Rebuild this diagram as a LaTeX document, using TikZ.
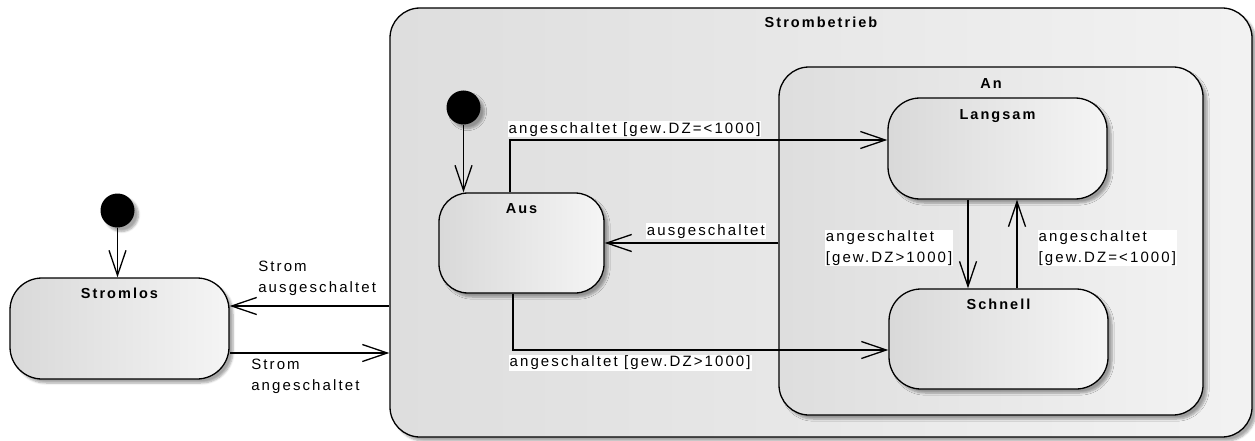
\documentclass[tikz,border=0pt]{standalone}
\usepackage{fontspec}
\setmainfont[LetterSpace=14]{Liberation Sans}
\usetikzlibrary{arrows.meta,shadows.blur,calc}
\begin{document}
\begin{tikzpicture}[x=1pt,y=-1pt,
  every node/.style={font=\fontsize{15}{21}\selectfont},
  shad/.style={blur shadow={shadow xshift=4pt,shadow yshift=-4pt,shadow blur steps=6,shadow opacity=35}},
  box/.style={draw,line width=1.3pt,left color=black!15,right color=black!4,inner sep=0pt,shad},
  statebox/.style={box,rounded corners=32pt},
  cont/.style={box,rounded corners=30pt,left color=black!13,right color=black!5},
  ttl/.style={font=\fontsize{14.5}{21}\selectfont\bfseries,anchor=base,inner sep=0pt},
  initdot/.style={circle,fill=black,minimum size=34pt,inner sep=0pt,shad},
  arr/.style={draw,line width=1.3pt,-{Straight Barb[length=25pt,width=17pt,line width=1.3pt]}},
  lbl/.style={fill=white,inner sep=1pt,align=left}
]
\useasboundingbox (0,0) rectangle (1255,441);
% containers
\node[cont,minimum width=862pt,minimum height=429pt] (betrieb) at (821,222.5) {};
\node[ttl] (tbetrieb) at ($(betrieb.north)+(0,20)$) {Strombetrieb};
\node[cont,minimum width=424pt,minimum height=348pt] (an) at (991,241) {};
\node[ttl] (tan) at ($(an.north)+(0,22)$) {An};
% states
\node[statebox,minimum width=219pt,minimum height=101pt] (stromlos) at (119.5,328.5) {};
\node[ttl] (tstromlos) at ($(stromlos.north)+(0,21)$) {Stromlos};
\node[statebox,rounded corners=29pt,minimum width=165pt,minimum height=100pt] (aus) at (521.5,243) {};
\node[ttl] (taus) at ($(aus.north)+(0,21)$) {Aus};
\node[statebox,minimum width=219pt,minimum height=101pt] (langsam) at (997.5,148.5) {};
\node[ttl] (tlangsam) at ($(langsam.north)+(0,22)$) {Langsam};
\node[statebox,minimum width=219pt,minimum height=100pt] (schnell) at (998.5,339) {};
\node[ttl] (tschnell) at ($(schnell.north)+(0,21)$) {Schnell};
% initial states
\node[initdot] (init1) at (117.5,210.5) {};
\node[initdot] (init2) at (463.5,107.5) {};
% transitions
\draw[arr] (init1.south) -- (init1.south |- stromlos.north);
\draw[arr] (init2.south) -- (init2.south |- aus.north);
\draw[arr] (betrieb.west |- 0,306) coordinate (b1) -- node[lbl,pos=1,anchor=south west,xshift=27pt,yshift=9pt] {Strom\\ausgeschaltet} (stromlos.east |- b1);
\draw[arr] (stromlos.east |- 0,353) coordinate (b2) -- node[lbl,pos=0,anchor=north west,xshift=20pt,yshift=-4pt] {Strom\\angeschaltet} (betrieb.west |- b2);
\draw[arr] ([xshift=-11.5pt]aus.north) |- node[lbl,pos=0.5,anchor=south west,xshift=-3pt,yshift=2pt] {angeschaltet [gew.DZ=<1000]} ([yshift=8.5pt]langsam.west);
\draw[arr] ([xshift=-8.5pt]aus.south) |- node[lbl,pos=0.5,anchor=north west,xshift=-5pt,yshift=-4pt] {angeschaltet [gew.DZ>1000]} ([yshift=-11pt]schnell.west);
\draw[arr] (an.west |- aus.east) -- node[lbl,pos=0,anchor=south east,xshift=-12pt,yshift=3pt] {ausgeschaltet} (aus.east);
\draw[arr] ([xshift=-29.5pt]langsam.south) -- node[lbl,pos=0.5,anchor=east,xshift=-14pt,yshift=-4pt] {angeschaltet\\{}[gew.DZ>1000]} ([xshift=-29.5pt]langsam.south |- schnell.north);
\draw[arr] ([xshift=18.5pt]schnell.north) -- node[lbl,pos=0.5,anchor=west,xshift=20pt,yshift=-4pt] {angeschaltet\\{}[gew.DZ=<1000]} ([xshift=18.5pt]schnell.north |- langsam.south);
\end{tikzpicture}
\end{document}
